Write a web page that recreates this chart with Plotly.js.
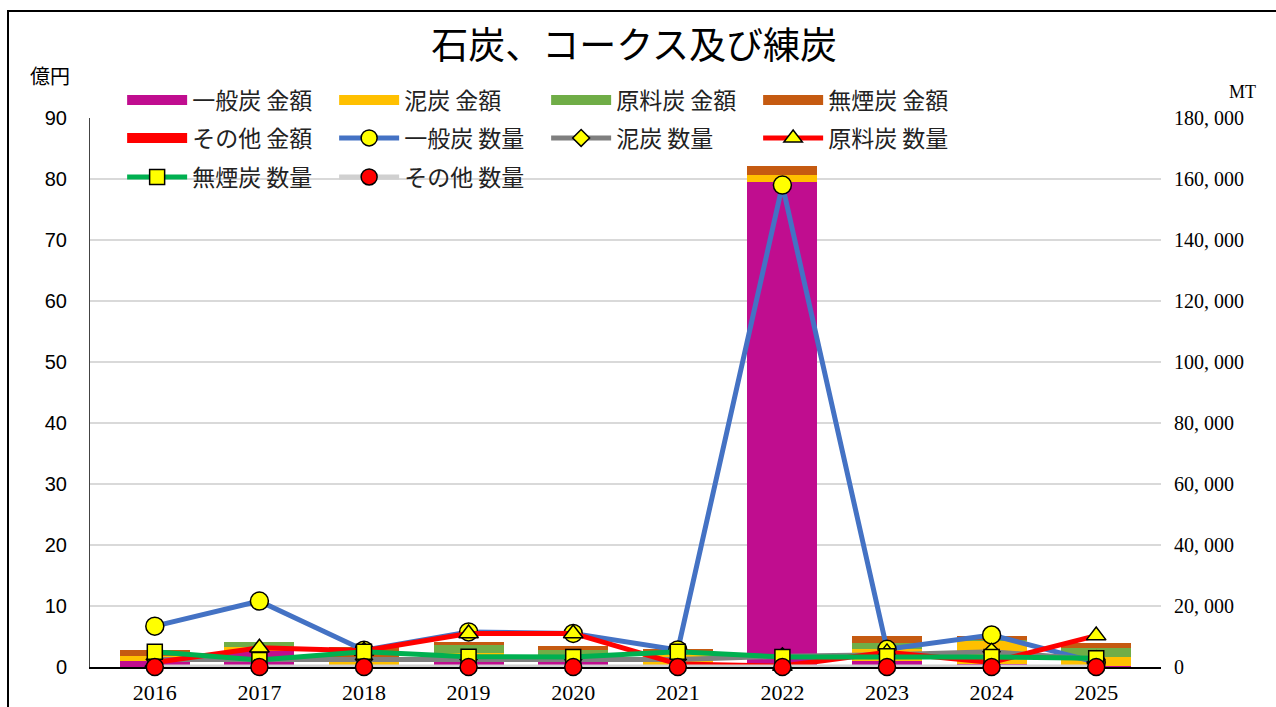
<!DOCTYPE html>
<html>
<head>
<meta charset="utf-8">
<script src="https://cdn.plot.ly/plotly-3.0.1.min.js"></script>
<style>
html,body{margin:0;padding:0;background:#fff;}
#chart{width:1276px;height:707px;position:absolute;left:0;top:0;}
#frame{position:absolute;left:7px;top:10px;width:1280px;height:710px;border-left:2px solid #000;border-top:2px solid #000;pointer-events:none;}
</style>
</head>
<body>
<div id="chart"></div>
<div id="frame"></div>
<script>
// ---- data ----
const years = ['2016','2017','2018','2019','2020','2021','2022','2023','2024','2025'];

// 金額 (億円)
const amtIppan  = [1.0, 2.7, 0.0, 1.0, 1.1, 0.0, 79.5, 1.0, 0.5, 0.2];
const amtDeitan = [0.8, 0.65, 0.8, 1.3, 0.9, 2.3, 1.2, 1.9, 3.7, 1.4];
const amtGenryo = [0.0, 0.8, 0.0, 1.3, 0.8, 0.0, 0.0, 1.1, 0.2, 1.5];
const amtMuen   = [1.0, 0.0, 2.5, 0.55, 0.6, 0.65, 1.4, 1.1, 0.7, 0.8];
const amtSonota = [0, 0, 0, 0, 0, 0, 0, 0, 0, 0];

// 数量 (MT)
const qtyIppan  = [13400, 21600, 5500, 11500, 11000, 5600, 158000, 5800, 10500, 1500];
const qtyDeitan = [2500, 2500, 2500, 2500, 2500, 2500, 3500, 4000, 5000, 2500];
const qtyGenryo = [1500, 6300, 5300, 11000, 11000, 1000, 300, 4800, 1500, 10300];
const qtyMuen   = [5000, 2300, 5000, 3400, 3300, 5000, 3300, 3500, 3300, 2900];
const qtySonota = [0, 0, 0, 0, 0, 0, 0, 0, 0, 0];

// legend-key-only series (no plotted points): used to show bar keys as wide colour bands
const keyOnly = [null, null, null, null, null, null, null, null, null, null];

const leftTicks = [0,10,20,30,40,50,60,70,80,90];
const rightTicks = [0,20000,40000,60000,80000,100000,120000,140000,160000,180000];
const rightTickText = ['0','20, 000','40, 000','60, 000','80, 000','100, 000','120, 000','140, 000','160, 000','180, 000'];

const JP = '"Noto Sans CJK JP", sans-serif';

function bar(name, y, color){
  return {type:'bar', name:name, x:years, y:y, yaxis:'y', showlegend:false,
    marker:{color:color, line:{width:0}}};
}
function barKey(name, color, lg){
  return {type:'scatter', mode:'lines', name:name, x:years, y:keyOnly, yaxis:'y', legend:lg,
    line:{color:color, width:14}};
}
function line(name, y, color, symbol, msize, mcolor, lg){
  return {type:'scatter', mode:'lines+markers', name:name, x:years, y:y, yaxis:'y2', legend:lg,
    cliponaxis:false,
    line:{color:color, width:5},
    marker:{symbol:symbol, size:msize, color:mcolor, line:{color:'#000', width:1.5}}};
}

const C = {ippan:'#C00D8F', deitan:'#FFC000', genryo:'#70AD47', muen:'#C55A11', sonota:'#FF0000'};

const data = [
  bar('一般炭 金額', amtIppan, C.ippan),
  bar('泥炭 金額', amtDeitan, C.deitan),
  bar('原料炭 金額', amtGenryo, C.genryo),
  bar('無煙炭 金額', amtMuen, C.muen),
  bar('その他 金額', amtSonota, C.sonota),
  barKey('一般炭 金額', C.ippan, 'legend'),
  barKey('泥炭 金額', C.deitan, 'legend'),
  barKey('原料炭 金額', C.genryo, 'legend'),
  barKey('無煙炭 金額', C.muen, 'legend'),
  barKey('その他 金額', C.sonota, 'legend2'),
  line('一般炭 数量', qtyIppan, '#4472C4', 'circle', 18, '#FFFF00', 'legend2'),
  line('泥炭 数量', qtyDeitan, '#7F7F7F', 'diamond', 13, '#FFFF00', 'legend2'),
  line('原料炭 数量', qtyGenryo, '#FF0000', 'triangle-up', 17, '#FFFF00', 'legend2'),
  line('無煙炭 数量', qtyMuen, '#00B050', 'square', 15, '#FFFF00', 'legend3'),
  line('その他 数量', qtySonota, '#D0D0D0', 'circle', 17, '#FF0000', 'legend3')
];

function lg(y){
  return {orientation:'h', x:0.03, xanchor:'left', y:y, yanchor:'middle',
    bgcolor:'rgba(0,0,0,0)', entrywidth:137, entrywidthmode:'pixels', itemwidth:60,
    traceorder:'normal', font:{family:JP, size:23, color:'#222'}, tracegroupgap:0, itemclick:false};
}

const layout = {
  width:1276, height:707,
  paper_bgcolor:'#fff', plot_bgcolor:'#fff',
  margin:{l:90, r:115, t:118, b:40},
  barmode:'stack', bargap:0.33,
  showlegend:true,
  title:{text:'石炭、コークス及び練炭', font:{family:JP, size:37, color:'#000'},
    x:0.497, xref:'container', xanchor:'center', y:0.935, yref:'container', yanchor:'middle'},
  xaxis:{type:'category', showgrid:false, showline:true, linecolor:'#000', linewidth:2,
    ticks:'', ticklen:0, ticklabelstandoff:5, layer:'below traces',
    tickfont:{family:'"Liberation Serif", serif', size:22, color:'#000'}},
  yaxis:{range:[0,90], tickvals:leftTicks, showgrid:true, gridcolor:'#D9D9D9', gridwidth:1.5,
    showline:true, linecolor:'#444', linewidth:1, zeroline:false, ticks:'', ticklabelstandoff:18,
    tickfont:{family:'"Liberation Sans", Arial, sans-serif', size:20, color:'#000'}},
  yaxis2:{range:[0,180000], overlaying:'y', side:'right', tickvals:rightTicks, ticktext:rightTickText,
    showgrid:false, zeroline:false, showline:false, ticks:'', ticklabelstandoff:12,
    tickfont:{family:'"Liberation Serif", serif', size:20, color:'#000'}},
  legend:lg(1.0328),
  legend2:lg(0.9636),
  legend3:lg(0.8925),
  annotations:[
    {text:'億円', xref:'paper', yref:'paper', x:-0.037, y:1.0783, xanchor:'center', yanchor:'middle',
      showarrow:false, font:{family:JP, size:20, color:'#000'}},
    {text:'MT', xref:'paper', yref:'paper', x:1.076, y:1.047, xanchor:'center', yanchor:'middle',
      showarrow:false, font:{family:'"Liberation Serif", serif', size:18, color:'#000'}}
  ]
};

Plotly.newPlot('chart', data, layout, {displayModeBar:false, staticPlot:true});
</script>
</body>
</html>
